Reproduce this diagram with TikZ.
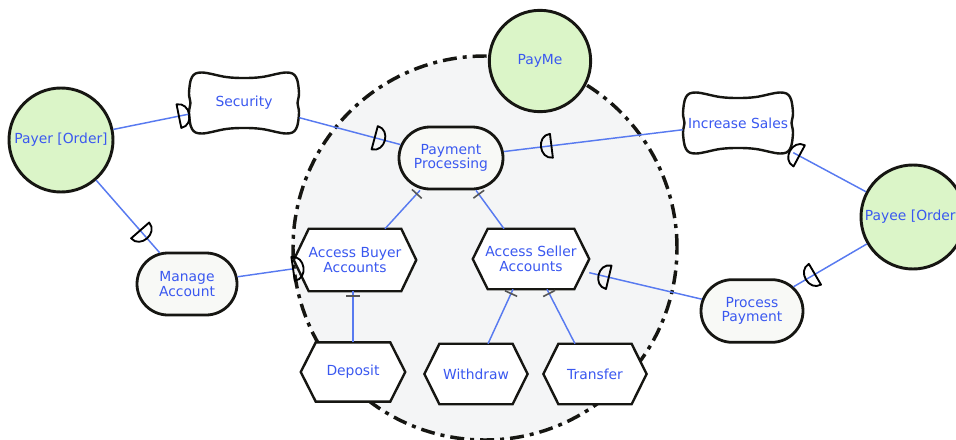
\documentclass[tikz,border=0pt]{standalone}
\usepackage{fontspec}
\setmainfont{DejaVu Sans}
\usetikzlibrary{shapes.misc,decorations.markings,calc}

\definecolor{txtblue}{RGB}{58,88,240}
\definecolor{linkblue}{RGB}{88,122,240}
\definecolor{actorgreen}{RGB}{219,245,200}
\definecolor{boundfill}{RGB}{244,245,246}
\definecolor{taskfill}{RGB}{248,249,246}
\definecolor{edge}{RGB}{22,22,18}
\definecolor{tickgray}{RGB}{85,85,85}

\pgfdeclarelayer{back}
\pgfdeclarelayer{shapes}
\pgfsetlayers{back,shapes,main}

\tikzset{
  lbl/.style={text=txtblue, font=\fontsize{10.4}{11}\selectfont, align=center, inner sep=0pt},
  actor/.style={lbl, circle, draw=edge, line width=2.2pt, fill=actorgreen, minimum size=#1},
  boundary/.style={circle, draw=edge, line width=2.6pt, fill=boundfill,
    dash pattern=on 10.5pt off 4.5pt on 3pt off 4.5pt, minimum size=288pt},
  stadium/.style={lbl, rounded rectangle, draw=edge, line width=2.1pt, fill=taskfill},
  hexbox/.style={lbl, rectangle},
  cloudbox/.style={lbl, rectangle, minimum width=82.5pt, minimum height=45.75pt},
  hexline/.style={draw=edge, line width=1.8pt, fill=white, line join=miter},
  cloudline/.style={draw=edge, line width=1.8pt, fill=white},
  link/.style={draw=linkblue, line width=1.1pt},
  dmark/.style={draw=black, line width=1.4pt, line join=round},
  dep/.style={link, postaction={decorate}, decoration={markings,
    mark=at position -#1 with {\draw[dmark] (0,9pt) .. controls (10.5pt,9pt) and (10.5pt,-9pt) .. (0,-9pt) -- cycle;}}},
  decomp/.style={link, postaction={decorate}, decoration={markings,
    mark=at position -3.5pt with {\draw[draw=tickgray, line width=1.2pt] (0,-5pt) -- (0,5pt);}}},
}

% hexagonal outline (task) around a rectangular node
\newcommand\hexat[1]{%
  \begin{pgfonlayer}{shapes}
    \draw[hexline] (#1.west) -- ($(#1.north west)+(15,0)$) -- ($(#1.north east)+(-15,0)$)
      -- (#1.east) -- ($(#1.south east)+(-15,0)$) -- ($(#1.south west)+(15,0)$) -- cycle;
  \end{pgfonlayer}}

% soft-goal cloud around a rectangular node
\newcommand\cloudat[1]{%
  \begin{pgfonlayer}{shapes}
    \begin{scope}[shift={(#1.center)}]
      \draw[cloudline] plot[smooth cycle, tension=0.6] coordinates {
        (-42,-30.5) (-18,-26) (0,-25) (18,-26) (42,-30.5) (52,-26) (55,-10) (53.5,0) (55,10) (52,26)
        (42,30.5) (18,26) (0,25) (-18,26) (-42,30.5) (-52,26) (-55,10) (-53.5,0) (-55,-10) (-52,-26)};
    \end{scope}
  \end{pgfonlayer}}

\begin{document}
\begin{tikzpicture}[x=0.75pt, y=-0.75pt]
  \useasboundingbox (0,0) rectangle (956,439);

  % actor boundary of PayMe
  \begin{pgfonlayer}{back}
    \node[boundary] (bnd) at (485,248) {};
  \end{pgfonlayer}

  % actors
  \node[actor=76pt] (payme) at (540,61) {PayMe};
  \node[actor=78pt] (payer) at (61,140) {Payer [Order]};
  \node[actor=78pt] (payee) at (913,217) {Payee [Order]};

  % soft goals
  \node[cloudbox] (sec) at (244,103) {Security};
  \node[cloudbox] (inc) at (738,123) {Increase Sales};
  \cloudat{sec}
  \cloudat{inc}

  % goals / rounded tasks
  \node[stadium, minimum width=78pt, minimum height=46.5pt] (pp) at (451,158) {Payment\\Processing};
  \node[stadium, minimum width=75pt, minimum height=46.5pt] (ma) at (187,284) {Manage\\Account};
  \node[stadium, minimum width=76.5pt, minimum height=47pt] (procpay) at (752,311) {Process\\Payment};

  % tasks
  \node[hexbox, minimum width=91.5pt, minimum height=46.5pt] (aba) at (355,260) {Access Buyer\\Accounts};
  \node[hexbox, minimum width=87pt, minimum height=45pt] (asa) at (531,259) {Access Seller\\Accounts};
  \node[hexbox, minimum width=78pt, minimum height=44pt] (dep) at (353,372) {Deposit};
  \node[hexbox, minimum width=77pt, minimum height=45pt] (wd) at (476,374) {Withdraw};
  \node[hexbox, minimum width=77pt, minimum height=45pt] (tr) at (595,374) {Transfer};
  \hexat{aba}
  \hexat{asa}
  \hexat{dep}
  \hexat{wd}
  \hexat{tr}

  % dependency links
  \draw[dep=7.5pt] (payer) -- (sec);
  \draw[dep=20pt] (sec) -- (pp);
  \draw[dep=36pt] (inc) -- (pp);
  \draw[dep=5pt] (payee) -- (inc);
  \draw[dep=22pt] (payer) -- (ma);
  \draw[dep=0.5pt] (ma) -- (aba);
  \draw[dep=18.5pt] (payee) -- (procpay);
  \draw[dep=15pt] (procpay) -- (asa);

  % decomposition links
  \draw[decomp] ($(aba.north)+(30,0)$) -- ($(pp.south)+(-31,0)$);
  \draw[decomp] ($(asa.north)+(-27,0)$) -- ($(pp.south)+(25,0)$);
  \draw[decomp] (dep.north) -- (dep.north |- aba.south);
  \draw[decomp] ($(wd.north)+(12,0)$) -- ($(asa.south)+(-18,0)$);
  \draw[decomp] ($(tr.north)+(-20,0)$) -- ($(asa.south)+(16,0)$);
\end{tikzpicture}
\end{document}
